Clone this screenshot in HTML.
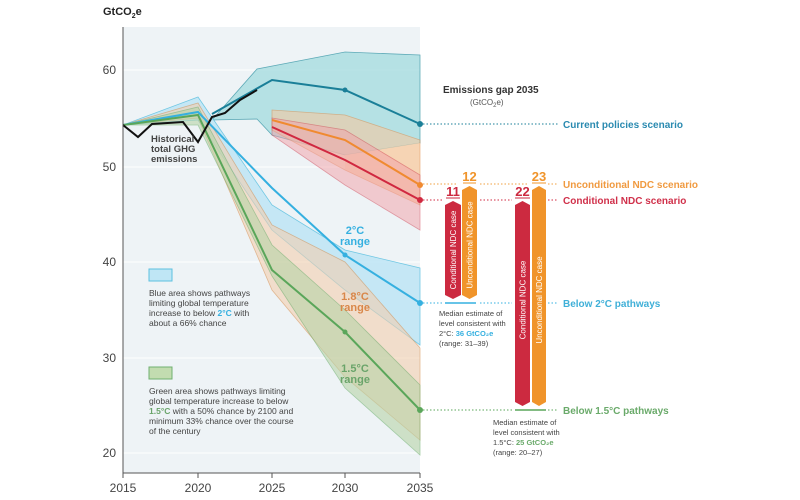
<!DOCTYPE html>
<html><head><meta charset="utf-8"><style>
body{margin:0;background:#fff;}
svg{display:block;font-family:"Liberation Sans",sans-serif;}
</style></head><body>
<svg width="800" height="500" viewBox="0 0 800 500">
<rect x="123" y="27" width="297" height="446" fill="#eef3f6"/>
<g stroke="#fff" stroke-width="1">
<line x1="123" y1="70" x2="420" y2="70"/><line x1="123" y1="167" x2="420" y2="167"/>
<line x1="123" y1="262" x2="420" y2="262"/><line x1="123" y1="358" x2="420" y2="358"/>
<line x1="123" y1="453" x2="420" y2="453"/></g>
<!-- current policies band -->
<polygon points="212,120 257,69 345,52 420,55 420,143 345,155 272,135 257,119" fill="#a8dde0" opacity="0.8" stroke="#3a98a8" stroke-width="0.8"/>
<!-- light orange region -->
<polygon points="345,155 420,143 420,205 345,170" fill="#fbe3cf" opacity="0.9"/>
<!-- blue 2C band -->
<polygon points="123,125 198,97 272,205 345,250 420,268 420,345 345,290 272,230 198,120" fill="#bfe6f5" opacity="0.85" stroke="#5cc0e0" stroke-width="0.8"/>
<!-- orange 1.8 band -->
<polygon points="123,125 198,103 272,225 345,262 420,348 420,440 345,377 272,290 198,118" fill="#f3cfb0" opacity="0.6" stroke="#d89050" stroke-width="0.8"/>
<!-- green 1.5 band -->
<polygon points="123,125 198,107 272,245 345,310 420,385 420,455 345,388 272,276 198,125" fill="#b8d4a8" opacity="0.6" stroke="#70b070" stroke-width="0.8"/>
<!-- NDC bands -->
<polygon points="272,110 345,115 420,140 420,205 345,170 272,130" fill="#f5c9a0" opacity="0.6" stroke="#e09050" stroke-width="0.8"/>
<polygon points="272,118 345,130 420,175 420,230 345,185 272,135" fill="#f2a0a8" opacity="0.5" stroke="#d04050" stroke-width="0.8"/>
<!-- medians -->
<polyline points="212,114 272,80 345,90 420,124" fill="none" stroke="#1a7f98" stroke-width="2"/>
<polyline points="123,125 198,112 272,188 345,255 420,303" fill="none" stroke="#35b0e0" stroke-width="2"/>
<polyline points="123,125 198,115 272,270 345,332 420,410" fill="none" stroke="#5aa65a" stroke-width="2"/>
<polyline points="272,120 345,140 420,185" fill="none" stroke="#f08a30" stroke-width="2"/>
<polyline points="272,127 345,160 420,200" fill="none" stroke="#d02840" stroke-width="2"/>
<polyline points="123,125 138,137 152,124 183,122 198,142 212,117 225,113 240,100 257,90" fill="none" stroke="#111" stroke-width="2"/>
<g><circle cx="345" cy="90" r="2.5" fill="#1a7f98"/><circle cx="420" cy="124" r="3" fill="#1a7f98"/>
<circle cx="345" cy="255" r="2.5" fill="#35b0e0"/><circle cx="420" cy="303" r="3" fill="#35b0e0"/>
<circle cx="345" cy="332" r="2.5" fill="#5aa65a"/><circle cx="420" cy="410" r="3" fill="#5aa65a"/>
<circle cx="420" cy="185" r="3" fill="#f08a30"/><circle cx="420" cy="200" r="3" fill="#d02840"/></g>
<!-- axes -->
<line x1="123" y1="27" x2="123" y2="473" stroke="#555"/>
<line x1="123" y1="473" x2="420" y2="473" stroke="#555"/>
<g stroke="#555"><line x1="123" y1="473" x2="123" y2="478"/><line x1="198" y1="473" x2="198" y2="478"/><line x1="272" y1="473" x2="272" y2="478"/><line x1="345" y1="473" x2="345" y2="478"/><line x1="420" y1="473" x2="420" y2="478"/></g>
<g font-size="12" fill="#444" text-anchor="middle">
<text x="123" y="492">2015</text><text x="198" y="492">2020</text><text x="272" y="492">2025</text><text x="345" y="492">2030</text><text x="420" y="492">2035</text></g>
<g font-size="12" fill="#444" text-anchor="end">
<text x="116" y="74">60</text><text x="116" y="171">50</text><text x="116" y="266">40</text><text x="116" y="362">30</text><text x="116" y="457">20</text></g>
<text x="103" y="15" font-size="11" font-weight="bold" fill="#222">GtCO<tspan font-size="7" dy="3">2</tspan><tspan dy="-3">e</tspan></text>
<g font-size="9.5" font-weight="bold" fill="#444"><text x="151" y="142">Historical</text><text x="151" y="152">total GHG</text><text x="151" y="162">emissions</text></g>
<g font-size="11" font-weight="bold" text-anchor="middle">
<text x="355" y="234" fill="#35b0e0">2°C</text><text x="355" y="245" fill="#35b0e0">range</text>
<text x="355" y="300" fill="#d9874a">1.8°C</text><text x="355" y="311" fill="#d9874a">range</text>
<text x="355" y="372" fill="#6aa46a">1.5°C</text><text x="355" y="383" fill="#6aa46a">range</text></g>
<!-- legend -->
<rect x="149" y="269" width="23" height="12" fill="#bfe6f5" stroke="#5cc0e0"/>
<g font-size="8.5" fill="#444"><text x="149" y="296">Blue area shows pathways</text><text x="149" y="306">limiting global temperature</text><text x="149" y="316">increase to below <tspan fill="#35b0e0" font-weight="bold">2°C</tspan> with</text><text x="149" y="326">about a 66% chance</text></g>
<rect x="149" y="367" width="23" height="12" fill="#c2dcb0" stroke="#70b070"/>
<g font-size="8.5" fill="#444"><text x="149" y="394">Green area shows pathways limiting</text><text x="149" y="404">global temperature increase to below</text><text x="149" y="414"><tspan fill="#6aa46a" font-weight="bold">1.5°C</tspan> with a 50% chance by 2100 and</text><text x="149" y="424">minimum 33% chance over the course</text><text x="149" y="434">of the century</text></g>
<!-- right panel -->
<text x="443" y="93" font-size="10" font-weight="bold" fill="#333">Emissions gap 2035</text>
<text x="470" y="105" font-size="8" fill="#555">(GtCO<tspan font-size="6" dy="2">2</tspan><tspan dy="-2">e)</tspan></text>
<g stroke-dasharray="1.5,2" stroke-width="1">
<line x1="423" y1="124" x2="558" y2="124" stroke="#1a7f98"/>
<line x1="423" y1="184" x2="458" y2="184" stroke="#f0a040"/><line x1="480" y1="184" x2="528" y2="184" stroke="#f0a040"/><line x1="548" y1="184" x2="558" y2="184" stroke="#f0a040"/>
<line x1="423" y1="200" x2="443" y2="200" stroke="#d02840"/><line x1="480" y1="200" x2="512" y2="200" stroke="#d02840"/><line x1="548" y1="200" x2="558" y2="200" stroke="#d02840"/>
<line x1="423" y1="303" x2="443" y2="303" stroke="#35b0e0"/><line x1="480" y1="303" x2="512" y2="303" stroke="#35b0e0"/><line x1="548" y1="303" x2="558" y2="303" stroke="#35b0e0"/>
<line x1="423" y1="410" x2="512" y2="410" stroke="#5aa65a"/><line x1="548" y1="410" x2="558" y2="410" stroke="#5aa65a"/>
</g>
<line x1="445" y1="303" x2="476" y2="303" stroke="#35b0e0" stroke-width="1.5"/>
<line x1="515" y1="410" x2="546" y2="410" stroke="#5aa65a" stroke-width="1.5"/>
<g font-size="10" font-weight="bold">
<text x="563" y="128" fill="#2a8ab0">Current policies scenario</text>
<text x="563" y="188" fill="#f09a40">Unconditional NDC scenario</text>
<text x="563" y="204" fill="#d0304a">Conditional NDC scenario</text>
<text x="563" y="307" fill="#40b0d8">Below 2°C pathways</text>
<text x="563" y="414" fill="#6aaa6a">Below 1.5°C pathways</text></g>
<!-- bars -->
<polygon points="445,205 453,201 461,205 461,295 453,299 445,295" fill="#cc2a40"/>
<polygon points="462,190 469.5,186 477,190 477,295 469.5,299 462,295" fill="#f0942a"/>
<polygon points="515,205 522.5,201 530,205 530,402 522.5,406 515,402" fill="#cc2a40"/>
<polygon points="532,190 539,186 546,190 546,402 539,406 532,402" fill="#f0942a"/>
<g font-size="13" font-weight="bold" text-anchor="middle">
<text x="453" y="196" fill="#cc2a40">11</text><text x="469.5" y="181" fill="#f0942a">12</text>
<text x="522.5" y="196" fill="#cc2a40">22</text><text x="539" y="181" fill="#f0942a">23</text></g>
<g stroke-width="1"><line x1="446" y1="198" x2="460" y2="198" stroke="#cc2a40"/><line x1="463" y1="183" x2="476" y2="183" stroke="#f0942a"/><line x1="515" y1="198" x2="530" y2="198" stroke="#cc2a40"/><line x1="532" y1="183" x2="546" y2="183" stroke="#f0942a"/></g>
<g font-size="8" fill="#fff" text-anchor="middle">
<text transform="translate(456,250) rotate(-90)">Conditional NDC case</text>
<text transform="translate(472.5,245) rotate(-90)">Unconditional NDC case</text>
<text transform="translate(525.5,300) rotate(-90)">Conditional NDC case</text>
<text transform="translate(542,300) rotate(-90)">Unconditional NDC case</text></g>
<g font-size="7.5" fill="#444">
<text x="439" y="316">Median estimate of</text><text x="439" y="326">level consistent with</text><text x="439" y="336">2°C: <tspan fill="#35b0e0" font-weight="bold">36 GtCO₂e</tspan></text><text x="439" y="346">(range: 31–39)</text>
<text x="493" y="425">Median estimate of</text><text x="493" y="435">level consistent with</text><text x="493" y="445">1.5°C: <tspan fill="#6aaa6a" font-weight="bold">25 GtCO₂e</tspan></text><text x="493" y="455">(range: 20–27)</text></g>
</svg>
</body></html>
